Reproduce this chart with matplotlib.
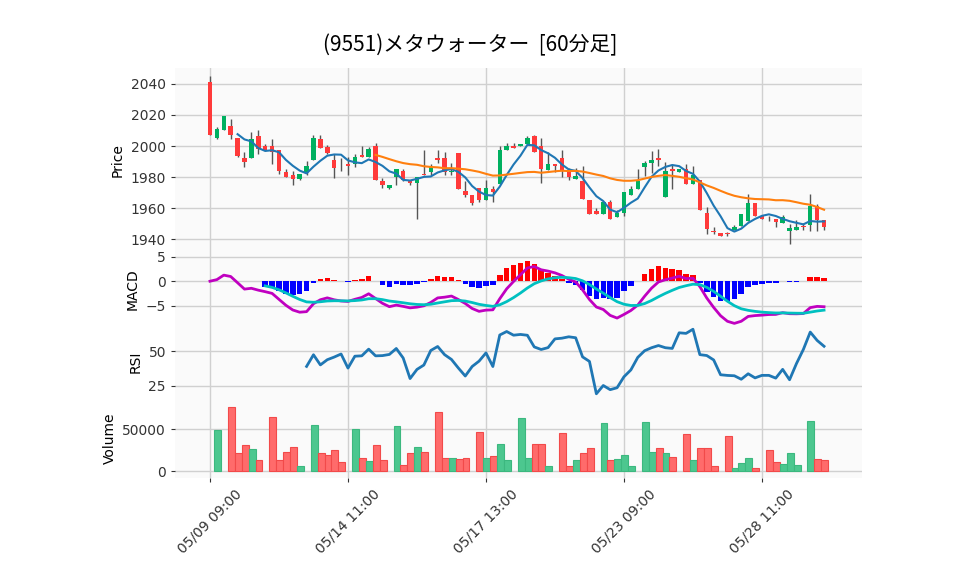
import numpy as np
import pandas as pd
import matplotlib
matplotlib.use('Agg')
import matplotlib.pyplot as plt

# hourly bars, 6 per day
days = ['05/09', '05/10', '05/13', '05/14', '05/15', '05/16', '05/17', '05/20',
        '05/21', '05/22', '05/23', '05/24', '05/27', '05/28', '05/29']
hours = ['09:00', '10:00', '11:00', '12:00', '13:00', '14:00']

opens = [2041.3, 2005, 2010.5, 2013, 2005.4, 1992.5, 1992, 2006.7, 2000, 2000,
         1997.4, 1983.5, 1981.3, 1979, 1983, 1990.8, 2004.5, 1999.6, 1991, 1986.7,
         1988.6, 1988.4, 1994.2, 1992.7, 2000.2, 1977.4, 1972.7, 1980, 1984, 1977.7,
         1976, 1982, 1983, 1992.5, 1992.5, 1983, 1995.7, 1971, 1968.6, 1973,
         1965, 1972.5, 1975.7, 1997.6, 2000.2, 1999.8, 2001.5, 2006.7, 2000, 1984.7,
         1988.6, 1992.5, 1984, 1979, 1977.6, 1965.4, 1958.3, 1956, 1964, 1954.2,
         1956.8, 1968.2, 1972.3, 1986.3, 1989, 1992.5, 1966.9, 1985.4, 1983, 1985.4,
         1975.7, 1978.3, 1956.8, 1945.4, 1943.9, 1943.9, 1946, 1948.6, 1951.4, 1963.2,
         1954.6, 1953.1, 1952.9, 1950.4, 1945, 1945.6, 1948.4, 1948.8, 1961.5, 1952.3]
closes = [2006.9, 2011, 2019.4, 2007, 1993.8, 1990, 2004.7, 1998, 1997.6, 1996,
          1983.7, 1980, 1979, 1982, 1987, 2005.4, 1999, 1995.3, 1986, 1986.3,
          1987, 1992.7, 1992.7, 1998, 1978, 1974.6, 1975, 1985.2, 1977.9, 1976,
          1980, 1981.3, 1986.5, 1990.8, 1983, 1984, 1972.3, 1968.6, 1963, 1965,
          1973, 1970.5, 1997.6, 2000.2, 1999, 2001.5, 2005.4, 1996, 1985, 1988.6,
          1987, 1984, 1979.8, 1980.4, 1965.6, 1956.4, 1956, 1964, 1953, 1957,
          1970.6, 1972.5, 1977.6, 1989, 1991.2, 1990.8, 1984, 1983.7, 1985.4, 1975.7,
          1981.5, 1959, 1946.7, 1944.8, 1941.7, 1943, 1947.8, 1956.2, 1963.2, 1954.6,
          1953, 1952.7, 1950.8, 1954, 1947, 1947.8, 1947.8, 1961.5, 1952, 1947.8]
highs = [2045, 2012, 2019.4, 2017.4, 2005.4, 1996, 2009, 2010, 2001, 2004.5,
         1997.4, 1985, 1983.7, 1982, 1990.5, 2007.3, 2007, 2000.9, 1995, 1992,
         1993, 1995, 1999.8, 1999.4, 2002, 1979.4, 1975, 1985.4, 1985.2, 1978,
         1980, 1997.6, 1988.6, 1997.6, 1996, 1989, 1995.7, 1977.6, 1968.6, 1973,
         1978.3, 1974.4, 1999.8, 2002, 2002, 2001.5, 2006.7, 2007, 2005, 1996,
         1988.6, 1997.6, 1985.6, 1985.8, 1987, 1965.4, 1960.2, 1964, 1965.4, 1959,
         1970.6, 1974, 1985.2, 1990.5, 1996.6, 1998, 1990, 1988, 1985.4, 1988.6,
         1987, 1978.3, 1960.7, 1947.5, 1943.9, 1944.3, 1949.3, 1956.2, 1969, 1963.2,
         1955, 1954.6, 1952.9, 1955.7, 1950, 1952, 1950.4, 1969, 1962.8, 1952.5]
lows = [2006.9, 2004.5, 2010, 2004.5, 1993, 1986.5, 1992, 1995, 1997, 1988.4,
        1982, 1979.8, 1975, 1978, 1981.3, 1990.8, 1999, 1995, 1979.4, 1983.7,
        1981, 1986.5, 1992.7, 1992.7, 1978, 1973, 1972.5, 1975, 1977.7, 1975,
        1953, 1981, 1981.3, 1989, 1981.3, 1981.3, 1972.3, 1967, 1961.7, 1963.7,
        1965, 1964, 1975.7, 1997.6, 1999, 1999.8, 2001.5, 1996, 1976, 1984.7,
        1983, 1980, 1978.3, 1979, 1965.6, 1956, 1956, 1956, 1953, 1954,
        1954.6, 1968.2, 1972.3, 1980.4, 1982.6, 1986.9, 1966.9, 1972.3, 1983, 1975.7,
        1975.7, 1959, 1943, 1943.5, 1941.7, 1941.7, 1946, 1948.6, 1951.4, 1954.6,
        1953, 1951.4, 1947.8, 1950.4, 1937, 1945.6, 1946, 1945.4, 1945.4, 1946]
volumes = [0, 49200, 0, 76500, 21200, 30800, 26000, 13500, 0, 64200,
           13500, 22300, 28500, 6500, 0, 55000, 21200, 19200, 25000, 11200,
           0, 50400, 15800, 12300, 30800, 13500, 0, 53800, 7700, 21200,
           28500, 22700, 0, 70000, 15800, 15800, 14600, 15800, 0, 46900,
           15800, 18100, 31900, 13500, 0, 62700, 15800, 31900, 32700, 5400,
           0, 45400, 6500, 13500, 21200, 27300, 0, 57300, 13500, 14600,
           19200, 6500, 0, 58500, 22700, 27300, 21200, 16900, 0, 44200,
           13500, 27300, 27300, 6500, 0, 41200, 4200, 10000, 15800, 3100,
           0, 25000, 11200, 8800, 21200, 7700, 0, 59600, 14600, 13500]

labels = ['%s %s' % (d, h) for d in days for h in hours]

df = pd.DataFrame({'open': opens, 'high': highs, 'low': lows,
                   'close': closes, 'volume': volumes})
n = len(df)
x = np.arange(n)
c = df['close']

ma5 = c.rolling(5).mean()
ma25 = c.rolling(25).mean()
macd = c.ewm(span=12, adjust=False).mean() - c.ewm(span=26, adjust=False).mean()
signal = macd.ewm(span=9, adjust=False, min_periods=9).mean()
hist = macd - signal
delta = c.diff()
gain = delta.clip(lower=0).rolling(14).mean()
loss = (-delta.clip(upper=0)).rolling(14).mean()
rsi = 100 - 100 / (1 + gain / loss)

up = df['close'] >= df['open']
col_up, col_dn = '#00b060', '#ff3a3a'
ccol = np.where(up, col_up, col_dn)
vcol = np.where(up, '#4cc78f', '#ff6b6b')
vedge = np.where(up, '#3cb87f', '#f24a4a')

fig = plt.figure(figsize=(9.58, 5.75), dpi=100, facecolor='white')
L, W = 175 / 958, 687 / 958
def rect(top, bot):
    return [L, 1 - bot / 575, W, (bot - top) / 575]
ax1 = fig.add_axes(rect(68, 253))
ax2 = fig.add_axes(rect(253, 325), sharex=ax1)
ax3 = fig.add_axes(rect(325, 398), sharex=ax1)
ax4 = fig.add_axes(rect(398, 478), sharex=ax1)

tick_pos = [0, 20, 40, 60, 80]
for ax in (ax1, ax2, ax3, ax4):
    ax.set_facecolor('#fafafa')
    for s in ax.spines.values():
        s.set_visible(False)
    ax.grid(True, color='#d0d0d0', linewidth=1.0)
    ax.set_axisbelow(True)
    ax.tick_params(labelsize=10, length=3, colors='#333333')
    ax.set_xticks(tick_pos)
    if ax is not ax4:
        ax.tick_params(axis='x', labelbottom=False, length=0)
ax1.set_xlim(-5.07, 94.5)

# candles
body_lo = np.minimum(df['open'], df['close'])
body_h = np.maximum(np.abs(df['close'] - df['open']), 0.4)
ax1.vlines(x, df['low'], df['high'], color='#555555', linewidth=1, zorder=2)
ax1.bar(x, body_h, bottom=body_lo, width=0.65, color=ccol, zorder=3)
ax1.plot(x, ma5, color='#1f77b4', linewidth=1.5, zorder=4)
ax1.plot(x, ma25, color='#ff7f0e', linewidth=1.5, zorder=4)
ax1.set_ylim(1931, 2050.3)
ax1.set_yticks([1940, 1960, 1980, 2000, 2020, 2040])
ax1.set_ylabel('Price', fontsize=10)

# macd
hc = np.where(hist >= 0, 'red', 'blue')
ax2.bar(x, hist, width=0.8, color=hc, zorder=2)
ax2.plot(x, macd, color='#c000c0', linewidth=2, zorder=3)
ax2.plot(x, signal, color='#00c0c0', linewidth=2, zorder=3)
ax2.set_ylim(-9, 5.8)
ax2.set_yticks([-5, 0, 5])
ax2.set_ylabel('MACD', fontsize=10)

# rsi
ax3.plot(x, rsi, color='#1f77b4', linewidth=2)
ax3.set_ylim(16.4, 68.6)
ax3.set_yticks([25, 50])
ax3.set_ylabel('RSI', fontsize=10)

# volume (skip empty lunch slots)
vol = df['volume'].to_numpy()
m = vol > 0
ax4.bar(x[m] + 0.1, vol[m], width=1.0, color=vcol[m], edgecolor=vedge[m],
        linewidth=0.8, zorder=2)
ax4.set_ylim(-8300, 87000)
ax4.set_yticks([0, 50000])
ax4.set_ylabel('Volume', fontsize=10)
ax4.set_xticklabels([labels[i] for i in tick_pos], rotation=45, fontsize=10)

fig.text(470 / 958, 1 - 45 / 575, '(9551)メタウォーター  [60分足]',
         ha='center', va='center', fontsize=15, fontname='Noto Sans CJK JP')

fig.savefig('out.png', dpi=100)
